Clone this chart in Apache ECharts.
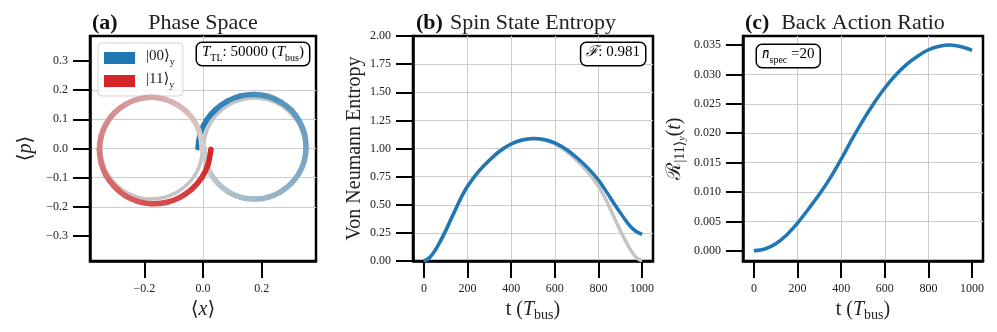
<!DOCTYPE html>
<html>
<head>
<meta charset="utf-8">
<script src="https://cdn.jsdelivr.net/npm/echarts@6/dist/echarts.min.js"></script>
<style>
  html, body { margin: 0; padding: 0; background: #fff; }
  #main { width: 997px; height: 332px; }
</style>
</head>
<body>
<div id="main"></div>
<script>
// (a) phase space, points are [<x>, <p>]
const traj00 = [
  [-0.017, 0.003], [-0.009, 0.052], [0.012, 0.097], [0.044, 0.134], [0.083, 0.162],
  [0.128, 0.180], [0.175, 0.185], [0.222, 0.178], [0.265, 0.159], [0.302, 0.130],
  [0.329, 0.092], [0.346, 0.049], [0.351, 0.003], [0.345, -0.043], [0.327, -0.085],
  [0.299, -0.121], [0.263, -0.149], [0.221, -0.167], [0.175, -0.173], [0.129, -0.167],
  [0.088, -0.149], [0.052, -0.120], [0.025, -0.084], [0.009, -0.042], [0.003, 0.003]
];
const traj11 = [
  [0.027, -0.003], [0.017, -0.055], [-0.005, -0.101], [-0.039, -0.140], [-0.080, -0.168],
  [-0.126, -0.185], [-0.175, -0.189], [-0.223, -0.181], [-0.266, -0.161], [-0.302, -0.130],
  [-0.330, -0.093], [-0.347, -0.049], [-0.353, -0.003], [-0.347, 0.043], [-0.329, 0.086],
  [-0.301, 0.123], [-0.264, 0.151], [-0.221, 0.169], [-0.175, 0.175], [-0.129, 0.168],
  [-0.087, 0.149], [-0.051, 0.121], [-0.024, 0.084], [-0.008, 0.042], [-0.003, -0.003]
];
const ideal00 = [
  [0.002, 0], [0.008, 0.045], [0.025, 0.087], [0.053, 0.122], [0.089, 0.150],
  [0.130, 0.167], [0.175, 0.173], [0.220, 0.167], [0.262, 0.150], [0.297, 0.122],
  [0.325, 0.087], [0.342, 0.045], [0.348, 0], [0.342, -0.045], [0.325, -0.087],
  [0.297, -0.122], [0.262, -0.150], [0.220, -0.167], [0.175, -0.173], [0.130, -0.167],
  [0.089, -0.150], [0.053, -0.122], [0.025, -0.087], [0.008, -0.045], [0.002, 0]
];
const ideal11 = [
  [-0.002, 0], [-0.008, -0.045], [-0.025, -0.087], [-0.053, -0.122], [-0.089, -0.150],
  [-0.130, -0.167], [-0.175, -0.173], [-0.220, -0.167], [-0.262, -0.150], [-0.297, -0.122],
  [-0.325, -0.087], [-0.342, -0.045], [-0.348, 0], [-0.342, 0.045], [-0.325, 0.087],
  [-0.297, 0.122], [-0.262, 0.150], [-0.220, 0.167], [-0.175, 0.173], [-0.130, 0.167],
  [-0.089, 0.150], [-0.053, 0.122], [-0.025, 0.087], [-0.008, 0.045], [-0.002, 0]
];

// (b) spin state entropy
const entropyTimes = [0, 25, 50, 75, 100, 125, 150, 175, 200, 250, 300, 350, 400, 450, 500,
  550, 600, 650, 700, 750, 800, 825, 850, 875, 900, 925, 950, 975, 1000];
const entropy = [0, 0.028, 0.09, 0.175, 0.27, 0.375, 0.48, 0.58, 0.665, 0.795, 0.896, 0.98, 1.04, 1.075, 1.09,
  1.08, 1.05, 0.995, 0.92, 0.83, 0.72, 0.65, 0.575, 0.50, 0.43, 0.36, 0.30, 0.26, 0.237];
const entropyIdeal = [0, 0.028, 0.09, 0.175, 0.27, 0.375, 0.48, 0.58, 0.665, 0.795, 0.896, 0.98, 1.04, 1.075, 1.09,
  1.075, 1.04, 0.98, 0.896, 0.795, 0.665, 0.58, 0.48, 0.375, 0.27, 0.175, 0.09, 0.028, 0];

// (c) back action ratio
const ratioTimes = [0, 50, 100, 150, 200, 250, 300, 350, 400, 450, 500,
  550, 600, 650, 700, 750, 800, 850, 900, 950, 1000];
const backAction = [0, 0.0003, 0.0012, 0.0027, 0.0047, 0.0071, 0.0096, 0.0124, 0.0156, 0.0190, 0.0222,
  0.0251, 0.0277, 0.0299, 0.0317, 0.0331, 0.0342, 0.0348, 0.0350, 0.0347, 0.0341];

// ticks
const phaseXTicks = [-0.2, 0, 0.2];
const phaseYTicks = [-0.3, -0.2, -0.1, 0, 0.1, 0.2, 0.3];
const timeTicks = [0, 200, 400, 600, 800, 1000];
const entropyTicks = [0, 0.25, 0.5, 0.75, 1, 1.25, 1.5, 1.75, 2];
const ratioTicks = [0, 0.005, 0.01, 0.015, 0.02, 0.025, 0.03, 0.035];

const SERIF = '"Liberation Serif", "DejaVu Serif", serif';
const TXT = '#222';

var chartDom = document.getElementById('main');
var myChart = echarts.init(chartDom, null, { renderer: 'canvas' });

function minus(s) { return s.replace('-', '\u2212'); }

function mix(c0, c1, f) {
  const a = [1, 3, 5].map(i => parseInt(c0.substr(i, 2), 16));
  const b = [1, 3, 5].map(i => parseInt(c1.substr(i, 2), 16));
  const c = a.map((v, k) => Math.round(v + (b[k] - v) * f));
  return 'rgb(' + c.join(',') + ')';
}

// trajectory as a custom series: one curved piece per step, colour fading along the path
function fadingPath(points, c0, c1, z) {
  const n = points.length - 1;
  return {
    type: 'custom',
    xAxisIndex: 0,
    yAxisIndex: 0,
    z: z,
    silent: true,
    clip: false,
    encode: { x: 0, y: 1 },
    data: points,
    renderItem: function (params, api) {
      const i = params.dataIndex;
      if (i >= n) return null;
      const p0 = api.coord(points[Math.max(i - 1, 0)]);
      const p1 = api.coord(points[i]);
      const p2 = api.coord(points[i + 1]);
      const p3 = api.coord(points[Math.min(i + 2, n)]);
      return {
        type: 'bezierCurve',
        shape: {
          x1: p1[0], y1: p1[1], x2: p2[0], y2: p2[1],
          cpx1: p1[0] + (p2[0] - p0[0]) / 6, cpy1: p1[1] + (p2[1] - p0[1]) / 6,
          cpx2: p2[0] - (p3[0] - p1[0]) / 6, cpy2: p2[1] - (p3[1] - p1[1]) / 6
        },
        style: { stroke: mix(c0, c1, i / (n - 1)), lineWidth: 5.5, fill: null, lineCap: 'round' }
      };
    }
  };
}

const rich = {
  n: { fontFamily: SERIF, fontSize: 15, color: TXT, lineHeight: 18, verticalAlign: 'top' },
  i: { fontFamily: SERIF, fontSize: 15, color: TXT, fontStyle: 'italic', lineHeight: 18, verticalAlign: 'top' },
  s: { fontFamily: SERIF, fontSize: 10, color: TXT, lineHeight: 8, verticalAlign: 'bottom' }
};
const richBig = {
  n: { fontFamily: SERIF, fontSize: 20, color: TXT, lineHeight: 22, verticalAlign: 'top' },
  i: { fontFamily: SERIF, fontSize: 20, color: TXT, fontStyle: 'italic', lineHeight: 22, verticalAlign: 'top' },
  s: { fontFamily: SERIF, fontSize: 14, color: TXT, lineHeight: 10, verticalAlign: 'bottom' },
  ss: { fontFamily: SERIF, fontSize: 10, color: TXT, fontStyle: 'italic', lineHeight: 6, verticalAlign: 'bottom' }
};

function valueAxis(grid, min, max, ticks, fmt, extra) {
  return Object.assign({
    type: 'value',
    gridIndex: grid,
    min: min,
    max: max,
    axisLine: { show: true, onZero: false, lineStyle: { color: '#000', width: 2.5 } },
    axisTick: { show: true, inside: false, length: 17, customValues: ticks, lineStyle: { color: '#000', width: 2 } },
    axisLabel: { customValues: ticks, margin: 22, fontFamily: SERIF, fontSize: 12, color: TXT, formatter: fmt },
    splitLine: { show: true, showMinLine: false, showMaxLine: false, lineStyle: { color: '#cccccc', width: 1 } },
    nameLocation: 'middle',
    nameTextStyle: { rich: richBig }
  }, extra);
}

const gridStyle = { show: true, borderColor: '#000', borderWidth: 2.5, backgroundColor: 'transparent' };

var option = {
  animation: false,
  backgroundColor: '#fff',
  grid: [
    Object.assign({ left: 90, top: 36, width: 226, height: 225 }, gridStyle),
    Object.assign({ left: 413, top: 36, width: 240, height: 225 }, gridStyle),
    Object.assign({ left: 743, top: 36, width: 240, height: 225 }, gridStyle)
  ],
  xAxis: [
    valueAxis(0, -0.385, 0.385, phaseXTicks, v => minus(v.toFixed(1)),
      { name: '{n|\u27E8}{i|x}{n|\u27E9}', nameGap: 39 }),
    valueAxis(1, -50, 1050, timeTicks, v => String(v),
      { name: '{n|t (}{i|T}{s|bus}{n|)}', nameGap: 39 }),
    valueAxis(2, -50, 1050, timeTicks, v => String(v),
      { name: '{n|t (}{i|T}{s|bus}{n|)}', nameGap: 39 })
  ],
  yAxis: [
    valueAxis(0, -0.385, 0.385, phaseYTicks, v => minus(v.toFixed(1)),
      { name: '{n|\u27E8}{i|p}{n|\u27E9}', nameGap: 52, nameRotate: 90 }),
    valueAxis(1, 0, 2, entropyTicks, v => v.toFixed(2),
      { name: '{n|Von Neumann Entropy}', nameGap: 46, nameRotate: 90 }),
    valueAxis(2, -0.00174, 0.03654, ratioTicks, v => v.toFixed(3),
      { name: '{n|\u211B}{s||11\u27E9}{ss|y}{n|(}{i|t}{n|)}', nameGap: 56, nameRotate: 90 })
  ],
  legend: {
    left: 98,
    top: 43,
    orient: 'vertical',
    icon: 'rect',
    itemWidth: 31,
    itemHeight: 12,
    itemGap: 5,
    padding: [6, 8, 6, 6],
    backgroundColor: 'rgba(255,255,255,0.8)',
    borderColor: '#d4d4d4',
    borderWidth: 1,
    borderRadius: 4,
    selectedMode: false,
    data: ['00', '11'],
    formatter: name => '{n||' + name + '\u27E9}{s|y}',
    textStyle: { padding: [0, 0, 0, 6], rich: rich }
  },
  graphic: [
    { type: 'text', x: 92, y: 23, style: { text: '(a)', font: 'bold 22px ' + SERIF, fill: '#111', align: 'left', verticalAlign: 'middle' } },
    { type: 'text', x: 203, y: 23, style: { text: 'Phase Space', font: '22px ' + SERIF, fill: TXT, align: 'center', verticalAlign: 'middle' } },
    { type: 'text', x: 416, y: 23, style: { text: '(b)', font: 'bold 22px ' + SERIF, fill: '#111', align: 'left', verticalAlign: 'middle' } },
    { type: 'text', x: 533, y: 23, style: { text: 'Spin State Entropy', font: '22px ' + SERIF, fill: TXT, align: 'center', verticalAlign: 'middle' } },
    { type: 'text', x: 745, y: 23, style: { text: '(c)', font: 'bold 22px ' + SERIF, fill: '#111', align: 'left', verticalAlign: 'middle' } },
    { type: 'text', x: 863, y: 23, style: { text: 'Back Action Ratio', font: '22px ' + SERIF, fill: TXT, align: 'center', verticalAlign: 'middle' } },
    {
      type: 'text', x: 197, y: 43, z: 100,
      style: {
        text: '{i|T}{s|TL}{n|: 50000 (}{i|T}{s|bus}{n|)}', rich: rich, align: 'left', verticalAlign: 'top',
        backgroundColor: '#fff', borderColor: '#000', borderWidth: 1.5, borderRadius: 5, padding: [2, 5, 2, 5]
      }
    },
    {
      type: 'text', x: 645, y: 43, z: 100,
      style: {
        text: '{i|\u2131}{n|: 0.981}', rich: rich, align: 'right', verticalAlign: 'top',
        backgroundColor: '#fff', borderColor: '#000', borderWidth: 1.5, borderRadius: 5, padding: [2, 5, 2, 5]
      }
    },
    {
      type: 'text', x: 757, y: 45, z: 100,
      style: {
        text: '{i|n\u0304}{s|spec}{n| =20}', rich: rich, align: 'left', verticalAlign: 'top',
        backgroundColor: '#fff', borderColor: '#000', borderWidth: 1.5, borderRadius: 5, padding: [2, 5, 2, 5]
      }
    }
  ],
  series: [
    { name: '00', type: 'line', data: [], color: '#1f77b4', itemStyle: { color: '#1f77b4' } },
    { name: '11', type: 'line', data: [], color: '#d62728', itemStyle: { color: '#d62728' } },
    { type: 'line', xAxisIndex: 0, yAxisIndex: 0, data: ideal00, smooth: true, symbol: 'none', silent: true, z: 2,
      lineStyle: { color: '#c4c4c4', width: 3.5 } },
    { type: 'line', xAxisIndex: 0, yAxisIndex: 0, data: ideal11, smooth: true, symbol: 'none', silent: true, z: 2,
      lineStyle: { color: '#c4c4c4', width: 3.5 } },
    fadingPath(traj00, '#1f77b4', '#c8ccd0', 3),
    fadingPath(traj11, '#d62728', '#d6cccc', 4),
    { type: 'line', xAxisIndex: 1, yAxisIndex: 1, data: entropyTimes.map((t, k) => [t, entropyIdeal[k]]),
      smooth: 0.3, symbol: 'none', silent: true, z: 2, lineStyle: { color: '#c4c4c4', width: 3.5 } },
    { type: 'line', xAxisIndex: 1, yAxisIndex: 1, data: entropyTimes.map((t, k) => [t, entropy[k]]),
      smooth: 0.3, symbol: 'none', silent: true, z: 3, lineStyle: { color: '#1f77b4', width: 3.5 } },
    { type: 'line', xAxisIndex: 2, yAxisIndex: 2, data: ratioTimes.map((t, k) => [t, backAction[k]]),
      smooth: 0.3, symbol: 'none', silent: true, z: 3, lineStyle: { color: '#1f77b4', width: 3.5 } }
  ]
};

option && myChart.setOption(option);
</script>
</body>
</html>
